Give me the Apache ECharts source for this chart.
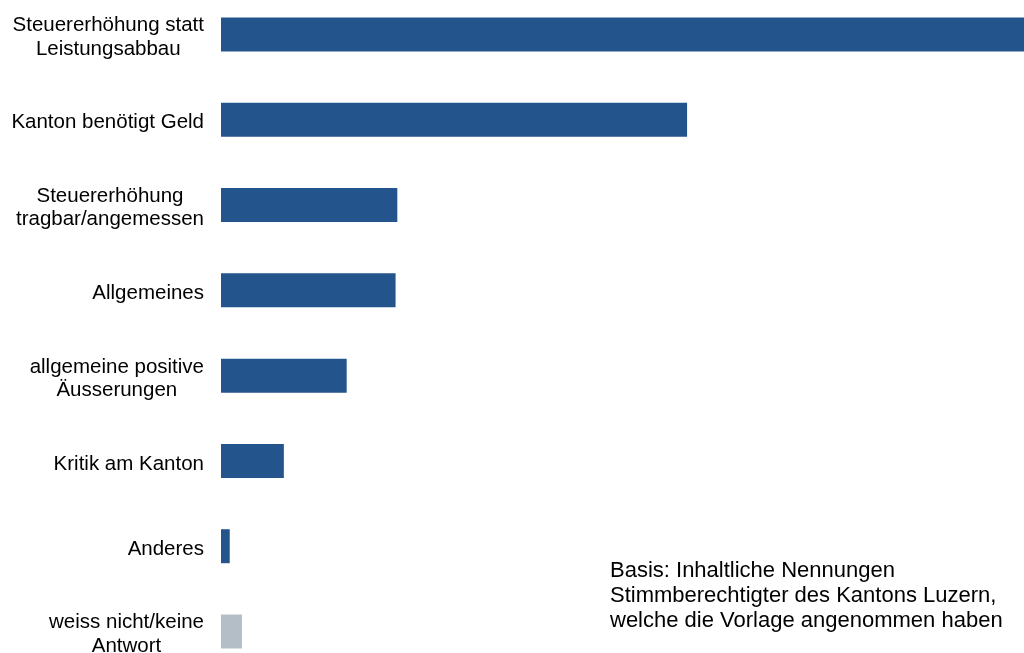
<!DOCTYPE html>
<html>
<head>
<meta charset="utf-8">
<script src="https://cdn.jsdelivr.net/npm/echarts@6/dist/echarts.min.js"></script>
<style>
  html, body { margin: 0; padding: 0; background: #fff; }
  #chart { width: 1024px; height: 653px; }
</style>
</head>
<body>
<div id="chart"></div>
<script>
// Reasons named for accepting the proposal (share of mentions, %)
const categories = [
  'Steuererhöhung statt\nLeistungsabbau',
  'Kanton benötigt Geld',
  'Steuererhöhung\ntragbar/angemessen',
  'Allgemeines',
  'allgemeine positive\nÄusserungen',
  'Kritik am Kanton',
  'Anderes',
  'weiss nicht/keine\nAntwort'
];
const values = [46, 26.7, 10.1, 10.0, 7.2, 3.6, 0.5, 1.2];
const noAnswerCategory = 'weiss nicht/keine\nAntwort';
const noteLines = [
  'Basis: Inhaltliche Nennungen',
  'Stimmberechtigter des Kantons Luzern,',
  'welche die Vorlage angenommen haben'
];

const BLUE = '#23548B';
const GREY = '#B4BEC6';
const FONT = '"Liberation Sans", Arial, sans-serif';

const chart = echarts.init(document.getElementById('chart'), null, { renderer: 'canvas' });

chart.setOption({
  animation: false,
  backgroundColor: '#ffffff',
  grid: {
    left: 221, right: 0, top: 34.5, bottom: 21.5,
    containLabel: false,
    outerBoundsMode: 'none'
  },
  xAxis: {
    type: 'value',
    min: 0,
    max: values[0],
    show: false
  },
  yAxis: {
    type: 'category',
    data: categories,
    inverse: true,
    boundaryGap: false,
    axisLine: { show: false },
    axisTick: { show: false },
    splitLine: { show: false },
    axisLabel: {
      align: 'right',
      margin: 17,
      interval: 0,
      padding: [6, 0, 0, 0],
      // each line centred within the label block, block right-aligned to the axis
      formatter: (v) => v.split('\n').map(l => '{c|' + l + '}').join('\n'),
      rich: {
        c: {
          align: 'center',
          fontSize: 20.5,
          lineHeight: 23.5,
          fontFamily: FONT,
          color: '#000000'
        }
      }
    }
  },
  series: [{
    type: 'bar',
    barWidth: 34,
    data: values.map((v, i) => ({
      value: v,
      itemStyle: { color: categories[i] === noAnswerCategory ? GREY : BLUE }
    })),
    label: { show: false }
  }],
  graphic: [{
    type: 'text',
    left: 610,
    top: 559,
    style: {
      text: noteLines.join('\n'),
      font: '22px ' + FONT,
      lineHeight: 24.7,
      fill: '#000000'
    }
  }]
});
</script>
</body>
</html>
